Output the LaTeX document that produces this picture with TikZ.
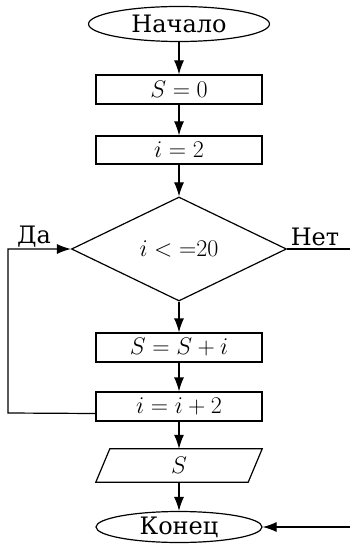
\RequirePackage{fix-cm}
\documentclass[tikz,border=0pt]{standalone}
\usepackage{fontspec}
\setmainfont{DejaVu Serif}
\usetikzlibrary{shapes.geometric,arrows.meta}
\begin{document}
\begin{tikzpicture}[x=1pt,y=-1pt,
  every node/.style={font=\fontsize{24}{28}\selectfont, inner sep=0pt},
  proc/.style={draw, line width=1.2pt, minimum width=166pt, minimum height=29pt},
  term/.style={draw, ellipse, line width=1.2pt},
  arr/.style={line width=1.2pt, -{Latex[length=14pt,width=10pt]}},
  ln/.style={line width=1.2pt}]
\useasboundingbox (0,0) rectangle (350,545);
\node[term, minimum width=181pt, minimum height=35pt] (start) at (179,24) {Начало};
\node[proc] (s0) at (179,89.5) {$S=0$};
\node[proc, minimum height=28pt] (i2) at (179,150) {$i=2$};
\node[draw, diamond, line width=1.2pt, minimum width=215pt, minimum height=104pt] (dec) at (179,249) {$i<{=}20$};
\node[proc] (add) at (179,347.5) {$S=S+i$};
\node[proc] (inc) at (179,406.5) {$i=i+2$};
\node[minimum width=166pt, minimum height=33pt] (outp) at (179,465.5) {$S$};
\draw[ln, line join=miter] ([xshift=14pt]outp.north west) -- (outp.north east) -- ([xshift=-14pt]outp.south east) -- (outp.south west) -- cycle;
\node[term, minimum width=166pt, minimum height=31pt] (end) at (179,527) {Конец};
\node (da) at (34,237) {Да};
\node (net) at (315,237) {Нет};
\coordinate (lc) at (8,413);
\coordinate (ne) at (350,249);
\coordinate (ke) at (350,527);
\draw[arr] (start) -- (s0);
\draw[arr] (s0) -- (i2);
\draw[arr] (i2) -- (dec);
\draw[arr] (dec) -- (add);
\draw[arr] (add) -- (inc);
\draw[arr] (inc) -- (outp);
\draw[arr] (outp) -- (end);
\draw[arr] ([yshift=-7pt]inc.west) -- (lc) |- (dec.west);
\draw[ln] (dec.east) -- (ne);
\draw[arr] (ke) -- (end.east);
\end{tikzpicture}
\end{document}
